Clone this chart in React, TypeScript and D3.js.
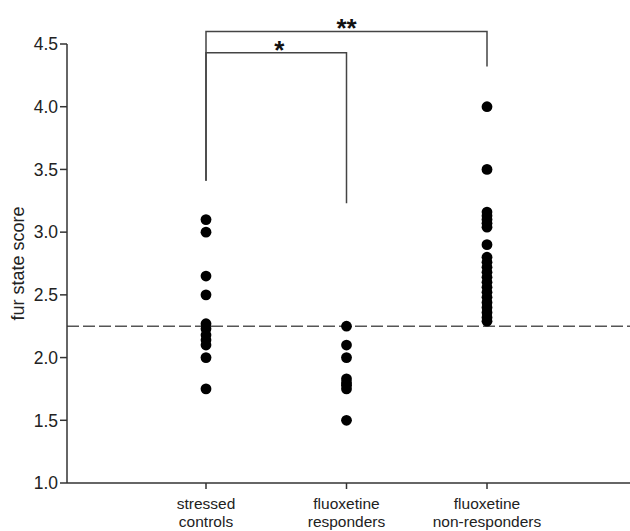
import React from "react";
import * as d3 from "d3";

const categories = ["stressed controls", "fluoxetine responders", "fluoxetine non-responders"];
const categoryLines = [["stressed", "controls"], ["fluoxetine", "responders"], ["fluoxetine", "non-responders"]];
const stressedControls = [3.1, 3.0, 2.65, 2.5, 2.27, 2.23, 2.18, 2.14, 2.1, 2.0, 1.75];
const fluoxetineResponders = [2.25, 2.1, 2.0, 1.83, 1.8, 1.78, 1.75, 1.5];
const fluoxetineNonResponders = [4.0, 3.5, 3.16, 3.13, 3.1, 3.07, 3.04, 2.9, 2.8, 2.76, 2.72, 2.68, 2.64, 2.6, 2.56, 2.52, 2.48, 2.44, 2.4, 2.36, 2.32, 2.29];
const seriesValues = [stressedControls, fluoxetineResponders, fluoxetineNonResponders];
const yTicks = [1.0, 1.5, 2.0, 2.5, 3.0, 3.5, 4.0, 4.5];
const threshold = 2.25;
// brackets: [fromCat, toCat, topValue, leftLegBottom, rightLegBottom, label]
const brackets: [number, number, number, number, number, string][] = [
  [0, 2, 4.6, 3.41, 4.32, "**"],
  [0, 1, 4.43, 3.41, 3.23, "*"],
];

export default function App() {
  const W = 630, H = 531;
  const y = d3.scaleLinear().domain([1.0, 4.5]).range([483, 44]);
  const x = d3.scalePoint<number>().domain([0, 1, 2]).range([206, 487]);
  const axisX = 67;
  const font = "Arial, 'Liberation Sans', Helvetica, sans-serif";
  const axisColor = "#333";
  return (
    <svg width={W} height={H} style={{ position: "absolute", left: 0, top: 0, background: "#fff" }}>
      {/* threshold dashed line */}
      <line x1={axisX} x2={W} y1={y(threshold)} y2={y(threshold)} stroke="#555" strokeWidth={1.6} strokeDasharray="12,4" />
      {/* y axis */}
      <line x1={axisX} x2={axisX} y1={y(4.5)} y2={y(1.0)} stroke={axisColor} strokeWidth={1.5} />
      {yTicks.map((t) => (
        <g key={t}>
          <line x1={axisX - 7} x2={axisX} y1={y(t)} y2={y(t)} stroke={axisColor} strokeWidth={1.5} />
          <text x={axisX - 9} y={y(t)} dy="0.36em" textAnchor="end" fontFamily={font} fontSize={17.5} fill="#222">
            {t.toFixed(1)}
          </text>
        </g>
      ))}
      <text transform={`translate(24,${(y(4.5) + y(1.0)) / 2}) rotate(-90)`} textAnchor="middle" fontFamily={font} fontSize={18} fill="#222">
        fur state score
      </text>
      {/* x axis */}
      <line x1={axisX} x2={W} y1={y(1.0)} y2={y(1.0)} stroke={axisColor} strokeWidth={1.5} />
      {categories.map((c, i) => (
        <g key={c}>
          <line x1={x(i)} x2={x(i)} y1={y(1.0)} y2={y(1.0) + 6} stroke={axisColor} strokeWidth={1.5} />
          {categoryLines[i].map((ln, j) => (
            <text key={j} x={x(i)} y={y(1.0) + 26 + j * 17.5} textAnchor="middle" fontFamily={font} fontSize={15.5} fill="#222">
              {ln}
            </text>
          ))}
        </g>
      ))}
      {/* points */}
      {seriesValues.map((vals, i) =>
        vals.map((v, k) => <circle key={`${i}-${k}`} cx={x(i)} cy={y(v)} r={5.4} fill="#000" />)
      )}
      {/* significance brackets */}
      {brackets.map(([a, b, top, lb, rb, lab], k) => {
        const xa = x(a)!, xb = x(b)!;
        return (
          <g key={k}>
            <path d={`M${xa},${y(lb)}V${y(top)}H${xb}V${y(rb)}`} fill="none" stroke="#444" strokeWidth={1.5} />
            <text x={(xa + xb) / 2 + (k === 1 ? 3 : 0)} y={y(top) + 6} textAnchor="middle" fontFamily={font} fontSize={26} fontWeight="bold" fill="#111">
              {lab}
            </text>
          </g>
        );
      })}
    </svg>
  );
}
